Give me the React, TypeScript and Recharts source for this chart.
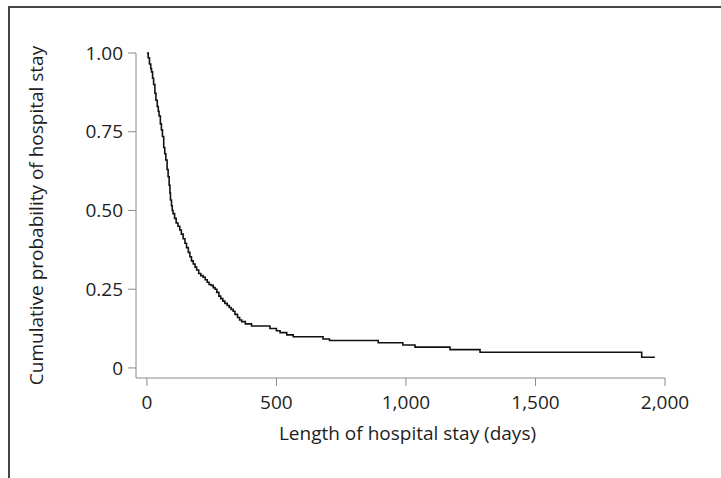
import { Line, LineChart, XAxis, YAxis } from 'recharts';

// Kaplan-Meier style curve: day of event -> cumulative probability still in hospital
const stayDays = [
  0, 5, 10, 15, 18, 22, 26, 31, 35, 40, 44, 47, 52, 56, 60, 65, 69, 73, 78, 82,
  86, 89, 91, 95, 98, 101, 107, 113, 120, 127, 133, 140, 147, 153, 160, 166, 172,
  179, 186, 192, 200, 208, 217, 225, 233, 240, 248, 256, 263, 270, 278, 285, 293,
  301, 310, 318, 325, 333, 340, 350, 358, 366, 380, 404, 475, 500, 514, 540, 565,
  680, 705, 893, 988, 1035, 1170, 1286, 1910, 1961,
];
const cumProb = [
  1.0, 0.985, 0.965, 0.95, 0.94, 0.92, 0.9, 0.872, 0.85, 0.83, 0.815, 0.8, 0.775,
  0.756, 0.735, 0.7, 0.68, 0.66, 0.63, 0.607, 0.58, 0.555, 0.533, 0.515, 0.5, 0.49,
  0.475, 0.46, 0.45, 0.438, 0.425, 0.41, 0.396, 0.382, 0.367, 0.353, 0.34, 0.33,
  0.32, 0.311, 0.3, 0.293, 0.288, 0.28, 0.272, 0.265, 0.262, 0.255, 0.25, 0.24,
  0.228, 0.22, 0.212, 0.205, 0.198, 0.192, 0.186, 0.18, 0.17, 0.16, 0.152, 0.147,
  0.14, 0.133, 0.125, 0.118, 0.112, 0.105, 0.099, 0.092, 0.087, 0.08, 0.073, 0.066,
  0.058, 0.05, 0.034, 0.034,
];
const xTicks = [0, 500, 1000, 1500, 2000];
const yTicks = [0, 0.25, 0.5, 0.75, 1];

const data = stayDays.map((d, i) => ({ day: d, prob: cumProb[i] }));

const FONT = '"Open Sans", sans-serif';
const FS = 19;
const AXIS = '#8a8a8a';
const INK = '#1e1e1e';

export default function App() {
  return (
    <div style={{ position: 'absolute', left: 0, top: 0, width: 721, height: 478, background: '#fff' }}>
      {/* frame (top + left edges only) */}
      <div
        style={{
          position: 'absolute',
          left: 8,
          top: 6,
          width: 713,
          height: 472,
          borderTop: '2px solid #454545',
          borderLeft: '2px solid #454545',
          boxSizing: 'border-box',
        }}
      />
      <LineChart
        width={721}
        height={478}
        data={data}
        margin={{ top: 53, right: 56, bottom: 70, left: 0 }}
        style={{ position: 'absolute', left: 0, top: 0 }}
      >
        <XAxis
          dataKey="day"
          type="number"
          domain={[-42, 2000]}
          ticks={xTicks}
          height={30}
          stroke={AXIS}
          tickSize={8}
          tickMargin={10}
          tickFormatter={(v: number) => v.toLocaleString('en-US')}
          tick={{ fill: INK, fontSize: FS, fontFamily: FONT }}
          label={{
            value: 'Length of hospital stay (days)',
            position: 'bottom',
            offset: 19,
            dx: 7,
            fill: INK,
            fontSize: FS,
            fontFamily: FONT,
          }}
        />
        <YAxis
          type="number"
          domain={[-0.032, 1]}
          ticks={yTicks}
          width={136}
          stroke={AXIS}
          tickSize={8}
          tickMargin={5}
          tickFormatter={(v: number) => (v === 0 ? '0' : v.toFixed(2))}
          tick={{ fill: INK, fontSize: FS, fontFamily: FONT }}
          label={({ viewBox }: any) => (
            <text
              x={0}
              y={0}
              transform={`translate(43, ${viewBox.y + viewBox.height / 2}) rotate(-90)`}
              textAnchor="middle"
              fill={INK}
              fontSize={FS}
              fontFamily={FONT}
            >
              Cumulative probability of hospital stay
            </text>
          )}
        />
        <Line
          type="stepAfter"
          dataKey="prob"
          stroke="#111"
          strokeWidth={1.6}
          dot={false}
          isAnimationActive={false}
        />
      </LineChart>
    </div>
  );
}
